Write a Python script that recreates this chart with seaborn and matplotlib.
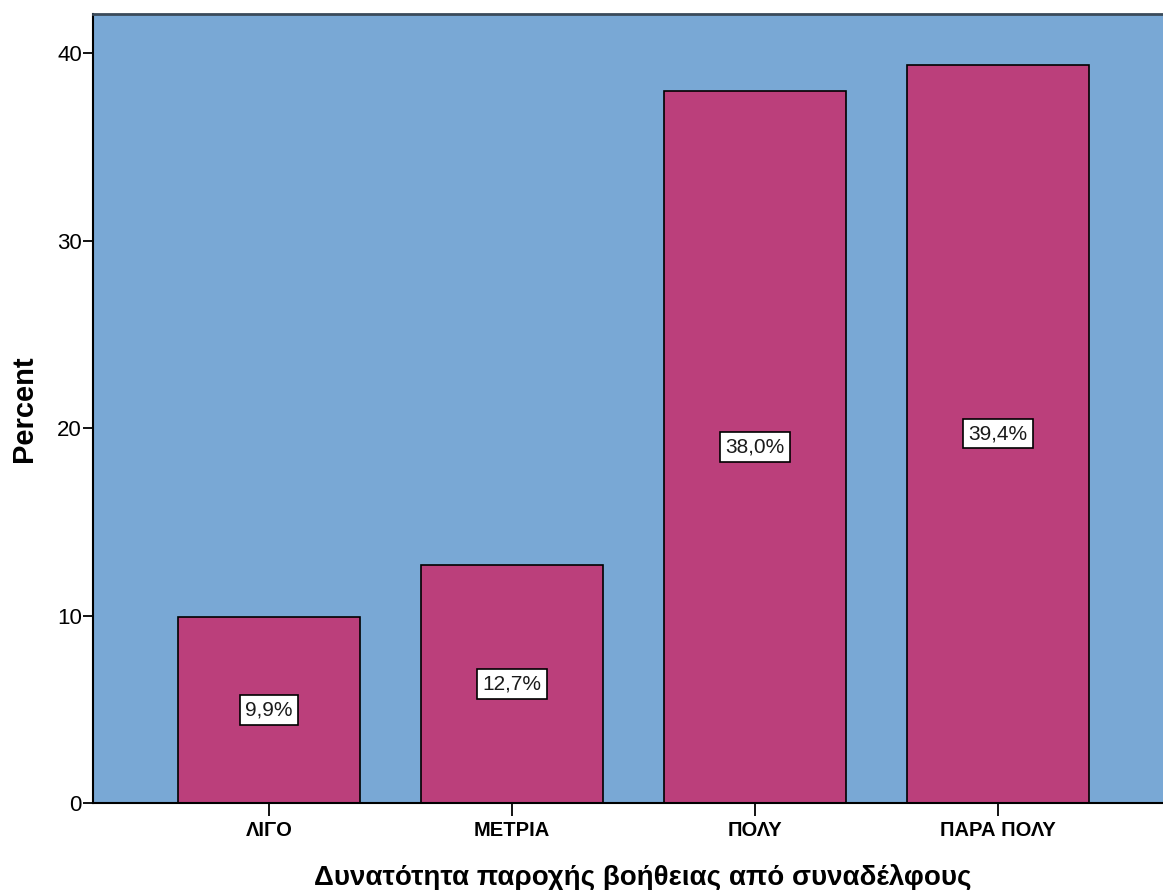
import matplotlib
matplotlib.use("Agg")
import matplotlib.pyplot as plt
import seaborn as sns
import pandas as pd

categories = ["ΛΙΓΟ", "ΜΕΤΡΙΑ", "ΠΟΛΥ", "ΠΑΡΑ ΠΟΛΥ"]
percents = [9.9, 12.7, 38.0, 39.4]
y_ticks = [0, 10, 20, 30, 40]

sns.set_theme(style="white")
plt.rcParams["font.family"] = ["Liberation Sans", "DejaVu Sans"]
plt.rcParams.update({
    "text.color": "black",
    "axes.labelcolor": "black",
    "xtick.color": "black",
    "ytick.color": "black",
})

df = pd.DataFrame({"category": categories, "percent": percents})

fig = plt.figure(figsize=(11.63, 8.90), dpi=100)
ax = fig.add_axes([0.080, 0.0978, 0.920, 0.8865])
ax.set_facecolor("#79A8D5")

sns.barplot(data=df, x="category", y="percent", order=categories,
            color="#BB3F7B", saturation=1, width=0.75,
            edgecolor="black", linewidth=1.2, ax=ax)

# value labels in white boxes at half bar height
for i, v in enumerate(percents):
    ax.text(i, v / 2, f"{v:.1f}%".replace(".", ","), ha="center", va="center",
            fontsize=15, color="#1a1a1a",
            bbox=dict(boxstyle="square,pad=0.25", facecolor="white",
                      edgecolor="black", linewidth=1.2))

ax.set_xlim(-0.724, 3.68)
ax.set_ylim(0, 42.1)
ax.set_yticks(y_ticks)
ax.set_yticklabels([str(t) for t in y_ticks], fontsize=16)
ax.set_xticks(range(len(categories)))
ax.set_xticklabels(categories, fontsize=14.5, fontweight="bold")

ax.tick_params(axis="y", direction="out", length=7, width=1.3,
               left=True, pad=1)
ax.tick_params(axis="x", direction="out", length=9, width=1.3,
               bottom=True, pad=4)

for side in ["left", "bottom"]:
    ax.spines[side].set_color("black")
    ax.spines[side].set_linewidth(1.5)
ax.spines["top"].set_color("#3A4A5A")
ax.spines["top"].set_linewidth(2)
ax.spines["right"].set_visible(False)

ax.set_xlabel("Δυνατότητα παροχής βοήθειας από συναδέλφους",
              fontsize=20, fontweight="bold")
ax.xaxis.set_label_coords(0.514, -0.077)
ax.set_ylabel("Percent", fontsize=21, fontweight="bold", labelpad=14)

fig.savefig("out.png", dpi=100, facecolor="white")
